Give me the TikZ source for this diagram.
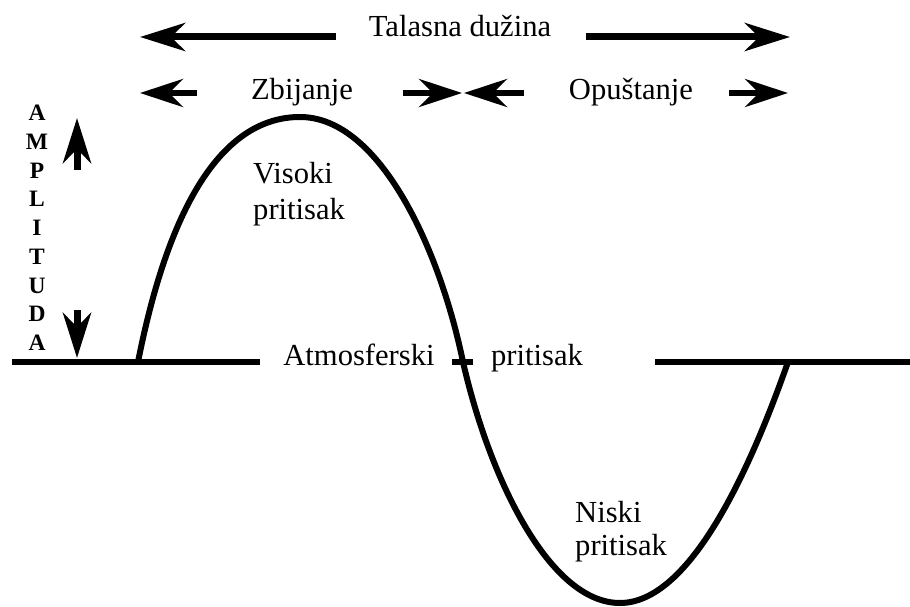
\documentclass[tikz,border=0pt]{standalone}
\usepackage{fontspec}
\setmainfont{Liberation Serif}
\usetikzlibrary{arrows.meta,positioning}

\tikzset{
  lbl/.style={inner sep=0pt,font=\fontsize{30.6}{35}\selectfont},
  vlet/.style={inner sep=0pt,font=\fontsize{23.5}{23.5}\selectfont\bfseries},
  wide/.style={line width=7pt,-{Stealth[length=45pt,width=28pt,inset=14pt]}},
  half/.style={line width=6pt,-{Stealth[length=43pt,width=28pt,inset=14pt]}},
  axisline/.style={line width=5.5pt},
  wave/.style={line width=6pt}
}

\begin{document}
\begin{tikzpicture}[x=1pt,y=-1pt]
\useasboundingbox (0,0) rectangle (910,607);

% wavelength
\node[lbl,anchor=base] (tal) at (460,37) {Talasna dužina};
\coordinate (tl) at (140,37);
\coordinate (tr) at (790,37);
\draw[wide] ([xshift=-33pt]tal.base west) -- (tl);
\draw[wide] ([xshift=35pt]tal.base east) -- (tr);

% compression and rarefaction
\node[lbl,anchor=base] (zbi) at (302,100) {Zbijanje};
\node[lbl,anchor=base] (opu) at (631,100) {Opuštanje};
\coordinate (z1) at (197,93);
\coordinate (z2) at (140,93);
\coordinate (z3) at (403,93);
\coordinate (z4) at (462,93);
\coordinate (o1) at (524,93);
\coordinate (o2) at (464,93);
\coordinate (o3) at (729,93);
\coordinate (o4) at (788,93);
\draw[half] (z1) -- (z2);
\draw[half] (z3) -- (z4);
\draw[half] (o1) -- (o2);
\draw[half] (o3) -- (o4);

% amplitude
\foreach \c [count=\i from 0] in {A,M,P,L,I,T,U,D,A}
  \node[vlet,anchor=base] (amp\i) at (37,120.5+28.75*\i) {\c};
\coordinate (a1) at (77,170);
\coordinate (a2) at (77,118);
\coordinate (a3) at (77,310);
\coordinate (a4) at (77,358);
\draw[wide] (a1) -- (a2);
\draw[wide] (a3) -- (a4);

% atmospheric pressure line
\node[lbl,anchor=base] (atm) at (359,365) {Atmosferski};
\node[lbl,anchor=base] (pri) at (537,365) {pritisak};
\draw[axisline] (12,362) -- (260,362);
\draw[axisline] (452,362) -- (473,362);
\draw[axisline] (655,362) -- (910,362);

% the wave
\draw[wave] (138,362) .. controls (170,200) and (225,117) .. (300,117)
  .. controls (380,117) and (440,250) .. (463,362)
  .. controls (490,480) and (550,603) .. (620,603)
  .. controls (690,603) and (750,470) .. (788,362);

\node[lbl,anchor=base west] (vis1) at (253,183) {Visoki};
\node[lbl,anchor=base west] (vis2) at (253,219) {pritisak};
\node[lbl,anchor=base west] (nis1) at (575,522) {Niski};
\node[lbl,anchor=base west] (nis2) at (575,555) {pritisak};
\end{tikzpicture}
\end{document}
